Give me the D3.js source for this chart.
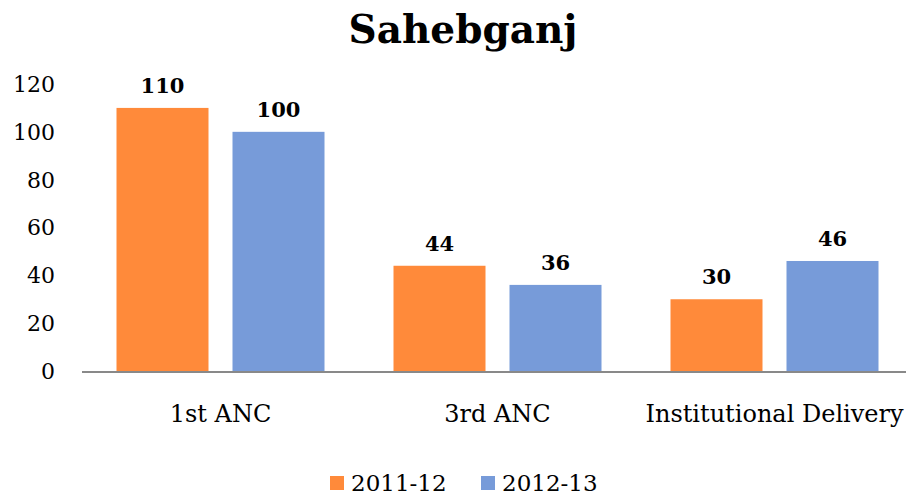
<!DOCTYPE html>
<html lang="en">
<head>
<meta charset="UTF-8">
<script src="https://cdn.jsdelivr.net/npm/d3@7"></script>
<style>
  body { margin:0; background:#fff; }
  text { font-family: "DejaVu Serif", serif; fill:#000; }
</style>
<title>Sahebganj</title>
</head>
<body>
<script>
var categories = ["1st ANC", "3rd ANC", "Institutional Delivery"];
var seriesNames = ["2011-12", "2012-13"];
var values2011 = [110, 44, 30];
var values2012 = [100, 36, 46];
var yTicks = [0, 20, 40, 60, 80, 100, 120];
var colors = ["#ff8a3a", "#779bd9"];

var W = 906, H = 495;
var svg = d3.select("body").append("svg")
    .attr("width", W).attr("height", H);

var x0 = d3.scaleBand().domain(categories).range([82, 913]).paddingInner(0).paddingOuter(0);
var x1 = d3.scaleBand().domain(seriesNames).range([0, x0.bandwidth()])
    .paddingInner(24 / 116).paddingOuter(34.5 / 116);
var y = d3.scaleLinear().domain([0, 120]).range([371, 84]);

// title
svg.append("text")
    .attr("x", 463).attr("y", 43)
    .attr("text-anchor", "middle")
    .style("font-size", "39px").style("font-weight", "bold")
    .text("Sahebganj");

// y tick labels
svg.selectAll(".ytick").data(yTicks).enter().append("text")
    .attr("class", "ytick")
    .attr("x", 55).attr("y", function(d) { return y(d); })
    .attr("dy", "0.36em")
    .attr("text-anchor", "end")
    .style("font-size", "22px")
    .text(function(d) { return d; });

var rows = categories.map(function(c, i) {
  return { cat: c, vals: [values2011[i], values2012[i]] };
});

var groups = svg.selectAll(".grp").data(rows).enter().append("g")
    .attr("class", "grp")
    .attr("transform", function(d) { return "translate(" + x0(d.cat) + ",0)"; });

groups.selectAll("rect").data(function(d) {
    return d.vals.map(function(v, j) { return { s: seriesNames[j], v: v, j: j }; });
  }).enter().append("rect")
    .attr("x", function(d) { return x1(d.s); })
    .attr("y", function(d) { return y(d.v); })
    .attr("width", x1.bandwidth())
    .attr("height", function(d) { return y(0) - y(d.v); })
    .attr("fill", function(d) { return colors[d.j]; });

groups.selectAll(".lbl").data(function(d) {
    return d.vals.map(function(v, j) { return { s: seriesNames[j], v: v }; });
  }).enter().append("text")
    .attr("class", "lbl")
    .attr("x", function(d) { return x1(d.s) + x1.bandwidth() / 2; })
    .attr("y", function(d) { return y(d.v) - 15; })
    .attr("text-anchor", "middle")
    .style("font-size", "21px").style("font-weight", "bold")
    .text(function(d) { return d.v; });

// baseline
svg.append("line")
    .attr("x1", 82).attr("x2", 906)
    .attr("y1", y(0) + 1).attr("y2", y(0) + 1)
    .attr("stroke", "#898989").attr("stroke-width", 2);

// category labels
svg.selectAll(".xlab").data(categories).enter().append("text")
    .attr("class", "xlab")
    .attr("x", function(d) { return x0(d) + x0.bandwidth() / 2; })
    .attr("y", 422)
    .attr("text-anchor", "middle")
    .style("font-size", "24px")
    .text(function(d) { return d; });

// legend
var legX = [330, 481];
var leg = svg.selectAll(".leg").data(seriesNames).enter().append("g")
    .attr("class", "leg")
    .attr("transform", function(d, i) { return "translate(" + legX[i] + ",476)"; });
leg.append("rect").attr("width", 14).attr("height", 14)
    .attr("fill", function(d, i) { return colors[i]; });
leg.append("text").attr("x", 21).attr("y", 15)
    .style("font-size", "23px")
    .text(function(d) { return d; });
</script>
</body>
</html>
